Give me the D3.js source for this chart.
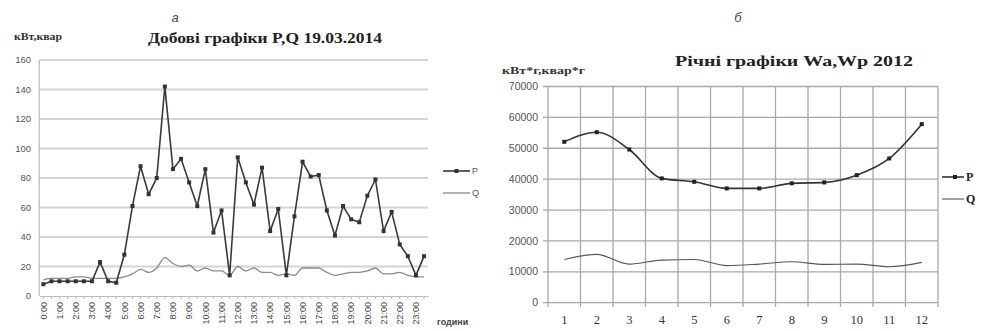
<!DOCTYPE html>
<html>
<head>
<meta charset="utf-8">
<script src="https://cdn.jsdelivr.net/npm/d3@7"></script>
<style>
  body { margin: 0; background: #fff; }
  svg { display: block; }
  .serif { font-family: "Liberation Serif", "Times New Roman", serif; }
  .sans { font-family: "Liberation Sans", Arial, sans-serif; }
  .bold { font-weight: bold; }
</style>
</head>
<body>
<svg id="chart" width="981" height="331"></svg>
<script>
// ---- daily chart (a) ----
const halfHours = ["0:00","0:30","1:00","1:30","2:00","2:30","3:00","3:30","4:00","4:30","5:00","5:30",
  "6:00","6:30","7:00","7:30","8:00","8:30","9:00","9:30","10:00","10:30","11:00","11:30",
  "12:00","12:30","13:00","13:30","14:00","14:30","15:00","15:30","16:00","16:30","17:00","17:30",
  "18:00","18:30","19:00","19:30","20:00","20:30","21:00","21:30","22:00","22:30","23:00","23:30"];
const hourLabels = ["0:00","1:00","2:00","3:00","4:00","5:00","6:00","7:00","8:00","9:00","10:00","11:00",
  "12:00","13:00","14:00","15:00","16:00","17:00","18:00","19:00","20:00","21:00","22:00","23:00"];
const dayP = [8,10,10,10,10,10,10,23,10,9,28,61,88,69,80,142,86,93,77,61,86,43,58,14,
  94,77,62,87,44,59,14,54,91,81,82,58,41,61,52,50,68,79,44,57,35,27,14,27];
const dayQ = [11,12,12,12,13,13,12,12,12,12,13,15,18,16,19,26,22,20,21,17,19,17,17,14,
  20,17,19,16,16,14,15,14,19,19,19,16,14,15,16,16,17,19,15,15,16,14,13,13];
const dayTicks = [0,20,40,60,80,100,120,140,160];

// ---- yearly chart (б) ----
const months = ["1","2","3","4","5","6","7","8","9","10","11","12"];
const yearP = [52100,55200,49600,40250,39150,37000,37000,38650,38950,41300,46700,57800];
const yearQ = [14000,15650,12500,13800,14000,12000,12500,13250,12400,12500,11650,13050];
const yearTicks = [0,10000,20000,30000,40000,50000,60000,70000];

const svg = d3.select("#chart");

// ===== left chart =====
const gL = svg.append("g");
const xL = d3.scaleBand().domain(halfHours).range([39.3, 428.1]);
const yL = d3.scaleLinear().domain([0, 160]).range([296, 60]);
const cx = d => xL(d) + xL.bandwidth() / 2;

gL.append("g").selectAll("line").data(dayTicks.filter(t => t > 0)).join("line")
  .attr("x1", 39.3).attr("x2", 428.1)
  .attr("y1", d => yL(d)).attr("y2", d => yL(d))
  .attr("stroke", "#d4d4d4").attr("stroke-width", 2);

gL.append("line").attr("x1", 39.3).attr("x2", 39.3).attr("y1", 60).attr("y2", 296)
  .attr("stroke", "#bbb").attr("stroke-width", 1.2);

gL.append("g").selectAll("text").data(dayTicks).join("text")
  .attr("class", "sans")
  .attr("x", 31).attr("y", d => yL(d)).attr("dy", "0.35em")
  .attr("text-anchor", "end").attr("font-size", 9.5).attr("fill", "#555").text(d => d);

const axL = gL.append("g").attr("transform", "translate(0,296)")
  .call(d3.axisBottom(xL).tickSize(3).tickSizeOuter(0)
    .tickFormat(d => hourLabels.includes(d) ? d : ""));
axL.select(".domain").attr("stroke", "#bbb").attr("stroke-width", 1.2);
axL.selectAll(".tick line").attr("stroke", "#bbb");
axL.selectAll("text")
  .attr("class", "sans")
  .attr("transform", "rotate(-90)").attr("x", -6).attr("y", 0).attr("dy", "0.35em")
  .style("text-anchor", "end").attr("font-family", null)
  .attr("font-size", 9).attr("fill", "#444");

const lineL = d3.line().x((d, i) => cx(halfHours[i])).y(d => yL(d));
gL.append("path").datum(dayQ).attr("d", lineL.curve(d3.curveMonotoneX))
  .attr("fill", "none").attr("stroke", "#8a8a8a").attr("stroke-width", 1.3);
gL.append("path").datum(dayP).attr("d", lineL.curve(d3.curveLinear))
  .attr("fill", "none").attr("stroke", "#3a3a3a").attr("stroke-width", 1.6);
gL.append("g").selectAll("rect").data(dayP).join("rect")
  .attr("x", (d, i) => cx(halfHours[i]) - 2).attr("y", d => yL(d) - 2)
  .attr("width", 4).attr("height", 4).attr("fill", "#333");

// titles, labels, legend
gL.append("text").attr("class", "sans").attr("x", 175).attr("y", 22).attr("text-anchor", "middle")
  .attr("font-style", "italic").attr("font-size", 13).attr("fill", "#3a4a6a").text("а");
gL.append("text").attr("class", "serif bold").attr("x", 265).attr("y", 43).attr("text-anchor", "middle")
  .attr("font-size", 14).attr("fill", "#222")
  .attr("textLength", 234).attr("lengthAdjust", "spacingAndGlyphs")
  .text("Добові графіки P,Q 19.03.2014");
gL.append("text").attr("class", "serif bold").attr("x", 14).attr("y", 40)
  .attr("font-size", 9.5).attr("fill", "#333")
  .attr("textLength", 48).attr("lengthAdjust", "spacingAndGlyphs").text("кВт,квар");
gL.append("text").attr("class", "sans bold").attr("x", 437).attr("y", 325)
  .attr("font-size", 9).attr("fill", "#444").text("години");

const legL = [{k: "P", y: 171}, {k: "Q", y: 193}];
legL.forEach(l => {
  gL.append("line").attr("x1", 443).attr("x2", 470).attr("y1", l.y).attr("y2", l.y)
    .attr("stroke", l.k === "P" ? "#3a3a3a" : "#8a8a8a").attr("stroke-width", l.k === "P" ? 1.6 : 1.3);
  if (l.k === "P") gL.append("rect").attr("x", 454.5).attr("y", l.y - 2).attr("width", 4).attr("height", 4).attr("fill", "#333");
  gL.append("text").attr("class", "sans").attr("x", 472).attr("y", l.y).attr("dy", "0.35em")
    .attr("font-size", 9).attr("fill", "#555").text(l.k);
});

// ===== right chart =====
const gR = svg.append("g");
const xR = d3.scaleBand().domain(months).range([548, 938]);
const yR = d3.scaleLinear().domain([0, 70000]).range([302.7, 86.5]);
const mx = d => xR(d) + xR.bandwidth() / 2;

gR.append("g").selectAll("line").data(yearTicks).join("line")
  .attr("x1", 543).attr("x2", 938)
  .attr("y1", d => yR(d)).attr("y2", d => yR(d))
  .attr("stroke", "#a8a8a8").attr("stroke-width", 1.3);
gR.append("g").selectAll("line").data(months.map(m => xR(m)).concat([938])).join("line")
  .attr("x1", d => d).attr("x2", d => d)
  .attr("y1", 86.5).attr("y2", 307)
  .attr("stroke", "#a8a8a8").attr("stroke-width", 1.3);

gR.append("g").selectAll("text").data(yearTicks).join("text")
  .attr("class", "sans")
  .attr("x", 538).attr("y", d => yR(d)).attr("dy", "0.35em")
  .attr("text-anchor", "end").attr("font-size", 10.5).attr("fill", "#555").text(d => d);

gR.append("g").selectAll("text").data(months).join("text")
  .attr("class", "serif")
  .attr("x", d => mx(d)).attr("y", 324).attr("text-anchor", "middle")
  .attr("font-size", 12.5).attr("fill", "#333").text(d => d);

const lineR = d3.line().x((d, i) => mx(months[i])).y(d => yR(d)).curve(d3.curveMonotoneX);
gR.append("path").datum(yearQ).attr("d", lineR)
  .attr("fill", "none").attr("stroke", "#555").attr("stroke-width", 1.1);
gR.append("path").datum(yearP).attr("d", lineR)
  .attr("fill", "none").attr("stroke", "#333").attr("stroke-width", 1.6);
gR.append("g").selectAll("rect").data(yearP).join("rect")
  .attr("x", (d, i) => mx(months[i]) - 2).attr("y", d => yR(d) - 2)
  .attr("width", 4).attr("height", 4).attr("fill", "#222");

gR.append("text").attr("class", "sans").attr("x", 738).attr("y", 22).attr("text-anchor", "middle")
  .attr("font-style", "italic").attr("font-size", 13).attr("fill", "#3a4a6a").text("б");
gR.append("text").attr("class", "serif bold").attr("x", 794).attr("y", 66).attr("text-anchor", "middle")
  .attr("font-size", 15.5).attr("fill", "#222")
  .attr("textLength", 238).attr("lengthAdjust", "spacingAndGlyphs")
  .text("Річні графіки Wa,Wp 2012");
gR.append("text").attr("class", "serif bold").attr("x", 502).attr("y", 74)
  .attr("font-size", 10).attr("fill", "#333")
  .attr("textLength", 83).attr("lengthAdjust", "spacingAndGlyphs").text("кВт*г,квар*г");

const legR = [{k: "P", y: 177}, {k: "Q", y: 199}];
legR.forEach(l => {
  gR.append("line").attr("x1", 942).attr("x2", 964).attr("y1", l.y).attr("y2", l.y)
    .attr("stroke", l.k === "P" ? "#333" : "#555").attr("stroke-width", l.k === "P" ? 1.6 : 1.1);
  if (l.k === "P") gR.append("rect").attr("x", 953).attr("y", l.y - 2).attr("width", 4).attr("height", 4).attr("fill", "#222");
  gR.append("text").attr("class", "serif bold").attr("x", 966).attr("y", l.y).attr("dy", "0.35em")
    .attr("font-size", 12).attr("fill", "#222").text(l.k);
});
</script>
</body>
</html>
